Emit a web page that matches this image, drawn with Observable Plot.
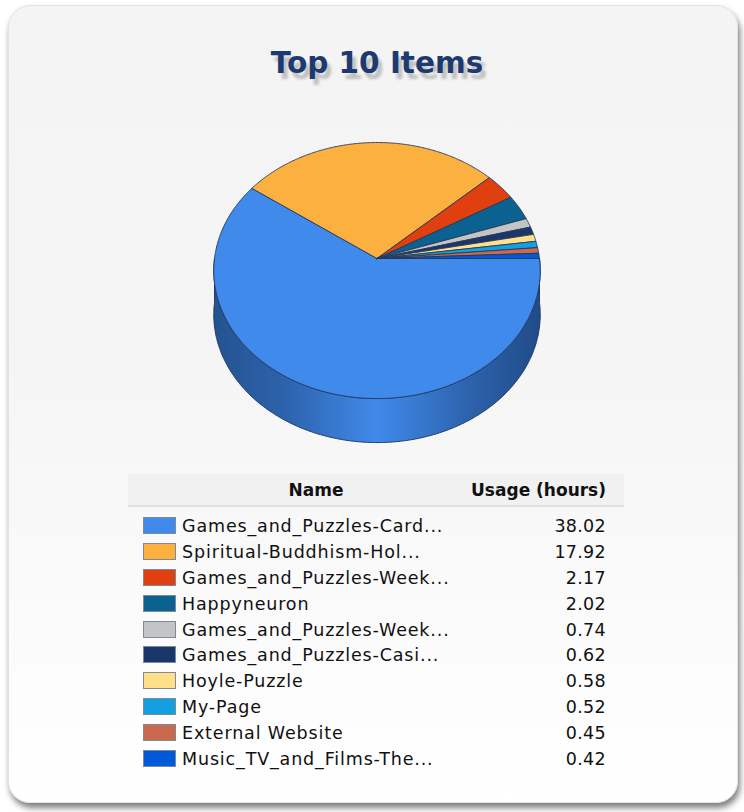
<!DOCTYPE html>
<html>
<head>
<meta charset="utf-8">
<script src="https://cdn.jsdelivr.net/npm/d3@7"></script>
<script src="https://cdn.jsdelivr.net/npm/@observablehq/plot@0.6"></script>
<style>
  html, body { margin: 0; padding: 0; background: #ffffff; }
  #page { position: relative; width: 744px; height: 812px; overflow: hidden; font-family: "DejaVu Sans", Verdana, sans-serif; }
  #card { position: absolute; left: 8px; top: 5px; width: 728px; height: 796px; border-radius: 22px;
          background: linear-gradient(to bottom, #f4f4f4 0%, #f5f5f5 45%, #ffffff 100%);
          border: 1px solid #e2e2e2;
          box-shadow: 2px 5px 6px rgba(0,0,0,0.5); }
  #title { position: absolute; left: 0; width: 754px; top: 46px; text-align: center;
           font-size: 29.5px; font-weight: bold; color: #1d3a70;
           text-shadow: 4px 6px 3px rgba(0,0,0,0.22); }
  #chart { position: absolute; left: 0; top: 0; }
  #legend { position: absolute; left: 128px; top: 474px; width: 496px; border-collapse: collapse; }
  #legend th { background: #f1f1f1; height: 31px; font-size: 17px; font-weight: bold; color: #111; padding: 0;
               border-bottom: 2px solid #e0e0e0; }
  #legend td { height: 25.9px; padding: 0; font-size: 17.5px; color: #111; white-space: nowrap; }
  .nm { letter-spacing: 0.85px; }
  .sw { display: inline-block; width: 31px; height: 15px; border: 1px solid #7f8a99; vertical-align: -2px; margin-left: 15px; margin-right: 6px; }
  .val { text-align: right; padding-right: 18px !important; letter-spacing: 0.3px; }
</style>
</head>
<body>
<div id="page">
  <div id="card"></div>
  <div id="title">Top 10 Items</div>
  <div id="chart"></div>
  <table id="legend"></table>
</div>
<script>
// ---- data ----
const names = [
  "Games_and_Puzzles-Card...",
  "Spiritual-Buddhism-Hol...",
  "Games_and_Puzzles-Week...",
  "Happyneuron",
  "Games_and_Puzzles-Week... ",
  "Games_and_Puzzles-Casi...",
  "Hoyle-Puzzle",
  "My-Page",
  "External Website",
  "Music_TV_and_Films-The..."
];
const usage = [38.02, 17.92, 2.17, 2.02, 0.74, 0.62, 0.58, 0.52, 0.45, 0.42];
const colors = ["#3f8aea", "#fbb040", "#e0400f", "#0b6190", "#c3c4c6", "#1b3769", "#ffe088", "#14a0e0", "#c9694d", "#0059d9"];
const headers = ["Name", "Usage (hours)"];

// ---- geometry (pseudo-3D pie) ----
const cx = 376.5, cy = 258, rx = 162.5, ry = 126.9, p = 0.094, depth = 44;
function proj(a, dz) {
  const u = Math.sin(a), v = -Math.cos(a);
  const w = 1 - p * v;
  return [cx + rx * u / w, cy + ry * v / w + dz];
}
function arcPts(a0, a1, dz) {
  const n = Math.max(2, Math.ceil((a1 - a0) / (Math.PI / 360)));
  const out = [];
  for (let i = 0; i <= n; i++) out.push(proj(a0 + (a1 - a0) * i / n, dz));
  return out;
}
const arcs = d3.pie().sort(null).startAngle(Math.PI / 2).endAngle(Math.PI / 2 + 2 * Math.PI)(usage);

const topPts = [];
const sidePts = [];
arcs.forEach((s, i) => {
  const key = names[i];
  const pts = [[cx, cy], ...arcPts(s.startAngle, s.endAngle, 0), [cx, cy]];
  pts.forEach(([x, y]) => topPts.push({key, x, y}));
  const f0 = Math.max(s.startAngle, Math.PI / 2), f1 = Math.min(s.endAngle, 3 * Math.PI / 2);
  if (f1 > f0) {
    const front = arcPts(f0, f1, 0);
    const back = arcPts(f0, f1, depth).reverse();
    [...front, ...back, front[0]].forEach(([x, y]) => sidePts.push({key, x, y}));
  }
});

const W = 744, H = 470;
const chart = Plot.plot({
  width: W, height: H, margin: 0,
  style: {background: "transparent", overflow: "visible"},
  x: {domain: [0, W], range: [0, W], axis: null},
  y: {domain: [0, H], range: [0, H], axis: null},
  color: {domain: names, range: colors},
  marks: [
    Plot.line(sidePts, {x: "x", y: "y", z: "key", fill: "url(#sideGrad)", stroke: "#1e3a66", strokeWidth: 1, curve: "linear"}),
    Plot.line(topPts, {x: "x", y: "y", z: "key", fill: "key", stroke: "#25395a", strokeWidth: 0.9, strokeLinejoin: "round", curve: "linear"})
  ]
});
d3.select(chart).insert("defs", ":first-child").html(`
  <linearGradient id="sideGrad" gradientUnits="userSpaceOnUse" x1="${cx - rx}" y1="0" x2="${cx + rx}" y2="0">
    <stop offset="0%" stop-color="#24538f"/>
    <stop offset="22%" stop-color="#2d63ad"/>
    <stop offset="50%" stop-color="#408aea"/>
    <stop offset="78%" stop-color="#2d63ad"/>
    <stop offset="100%" stop-color="#204c88"/>
  </linearGradient>`);
document.getElementById("chart").appendChild(chart);

// ---- legend table ----
const table = d3.select("#legend");
const hr = table.append("tr");
hr.append("th").style("text-align", "center").style("padding-left", "40px").text(headers[0]);
hr.append("th").style("text-align", "right").style("padding-right", "18px").text(headers[1]);
table.append("tr").append("td").attr("colspan", 2).style("height", "6px");
names.forEach((n, i) => {
  const tr = table.append("tr");
  const td = tr.append("td");
  td.append("span").attr("class", "sw").style("background", colors[i]);
  td.append("span").attr("class", "nm").text(n.trim());
  tr.append("td").attr("class", "val").text(usage[i].toFixed(2));
});
</script>
</body>
</html>
